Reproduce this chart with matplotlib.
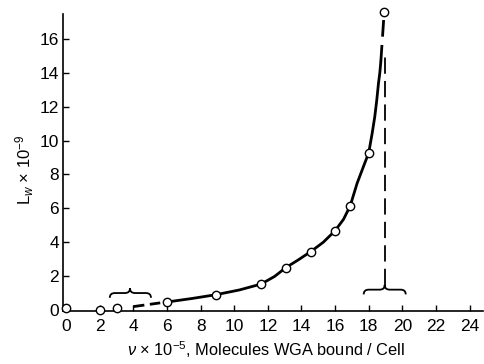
import numpy as np
import matplotlib.pyplot as plt
from matplotlib.path import Path
from matplotlib.patches import PathPatch

plt.rcParams['font.family'] = ['Liberation Sans', 'DejaVu Sans']
plt.rcParams['mathtext.fontset'] = 'custom'
plt.rcParams['mathtext.rm'] = 'Liberation Sans'
plt.rcParams['mathtext.it'] = 'Liberation Sans:italic'

# measured points (nu x 1e-5, Lw x 1e-9)
nu = [0.0, 2.0, 3.0, 6.0, 8.9, 11.6, 13.07, 14.56, 16.0, 16.9, 18.0, 18.9]
lw = [0.1, 0.0, 0.1, 0.47, 0.9, 1.53, 2.5, 3.45, 4.68, 6.15, 9.28, 17.6]

# hand-drawn curve
curve_x = [6.0, 7.5, 8.9, 10.3, 11.6, 12.4, 13.07, 13.8, 14.56, 15.3, 16.0, 16.5,
           16.9, 17.31, 17.7, 18.0, 18.2, 18.36, 18.48, 18.58, 18.66, 18.72]
curve_y = [0.47, 0.68, 0.9, 1.18, 1.53, 1.98, 2.5, 2.95, 3.45, 4.0, 4.68, 5.35,
           6.15, 7.48, 8.5, 9.28, 10.4, 11.41, 12.4, 13.38, 14.0, 14.66]
low_dash_x = [4.0, 5.6]
low_dash_y = [0.2, 0.42]
top_dash_x = [18.72, 18.9]
top_dash_y = [14.66, 17.3]

# saturation marker and braces
sat_x = 18.95
sat_y = [1.45, 15.3]
braces = [(2.6, 5.05, 3.8, 1.0), (17.7, 20.2, 18.95, 1.2)]  # left, right, tip, level

fig = plt.figure(figsize=(4.85, 3.64), dpi=100)
ax = fig.add_axes([0.130, 0.1456, 0.866, 0.816])

ax.plot(curve_x, curve_y, color='black', lw=2.0, solid_capstyle='round',
        solid_joinstyle='round', zorder=2)
ax.plot(low_dash_x, low_dash_y, color='black', lw=2.0, dashes=(4, 2), zorder=2)
ax.plot(top_dash_x, top_dash_y, color='black', lw=2.0, dashes=(6, 3), zorder=2)
ax.plot([sat_x, sat_x], sat_y, color='black', lw=1.3, dashes=(9, 4), zorder=2)
ax.plot(nu, lw, 'o', ms=6, mfc='white', mec='black', mew=1.0, zorder=3, clip_on=False)


def brace(x0, x1, xt, y):
    h = 0.28
    verts = [(x0, y - h), (x0, y), (x0 + 0.3, y),
             (xt - 0.3, y), (xt, y), (xt, y + h),
             (xt, y), (xt + 0.3, y),
             (x1 - 0.3, y), (x1, y), (x1, y - h)]
    codes = [Path.MOVETO, Path.CURVE3, Path.CURVE3,
             Path.LINETO, Path.CURVE3, Path.CURVE3,
             Path.CURVE3, Path.CURVE3,
             Path.LINETO, Path.CURVE3, Path.CURVE3]
    ax.add_patch(PathPatch(Path(verts, codes), fill=False, lw=1.3, ec='black'))


for b in braces:
    brace(*b)

ax.set_xlim(-0.18, 24.8)
ax.set_ylim(-0.06, 17.47)
ax.set_xticks(np.arange(0, 25, 2))
ax.set_yticks(np.arange(0, 17, 2))
ax.spines['top'].set_visible(False)
ax.spines['right'].set_visible(False)
for s in ['left', 'bottom']:
    ax.spines[s].set_linewidth(1.2)
ax.tick_params(axis='x', direction='in', length=4, width=1.0, pad=6, labelsize=12.5)
ax.tick_params(axis='y', direction='in', length=4, width=1.0, pad=3, labelsize=12.5)

fig.text(25 / 485, 1 - 170 / 364, r'L$_w$ × 10$^{-9}$', rotation=90,
         ha='center', va='center', fontsize=12)
fig.text(266 / 485, 1 - 350 / 364, r'$\nu$ × 10$^{-5}$, Molecules WGA bound / Cell',
         ha='center', va='center', fontsize=11.8)

fig.savefig('out.png', dpi=100)
